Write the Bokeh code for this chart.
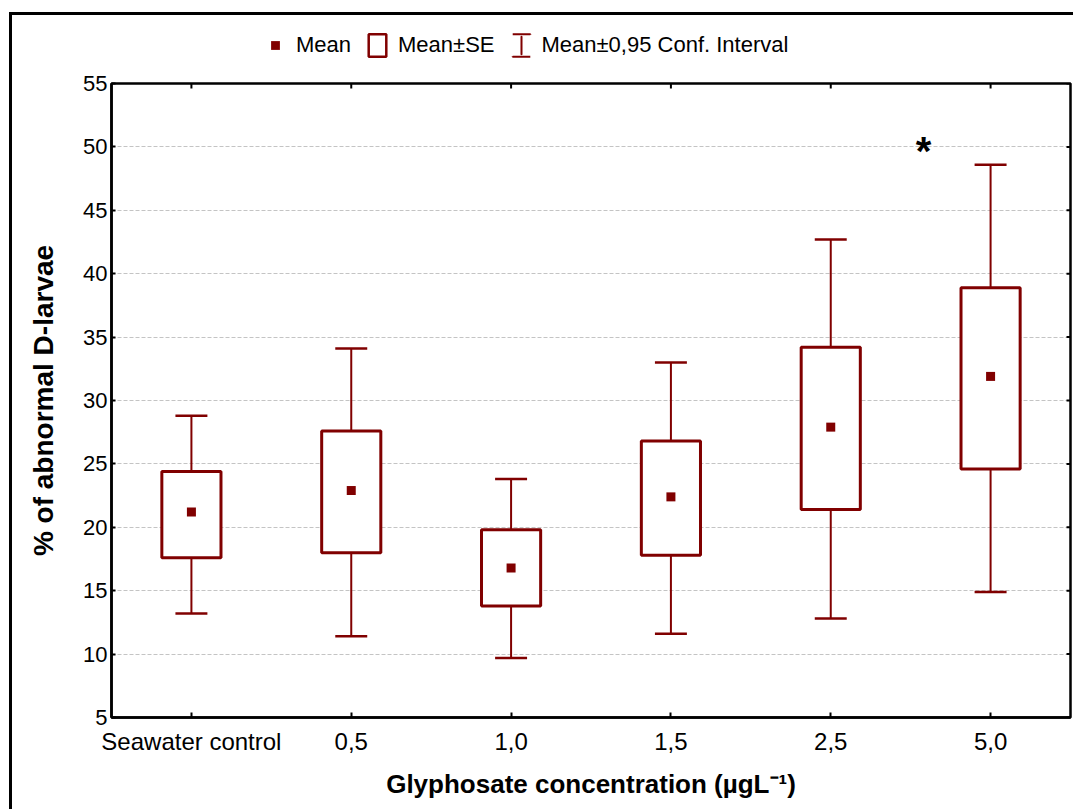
from bokeh.plotting import figure
from bokeh.layouts import column
from bokeh.models import (FactorRange, Range1d, ColumnDataSource, FixedTicker, Legend, LegendItem)
from bokeh.transform import dodge
from bokeh.core.properties import value
from bokeh.embed import file_html
from bokeh.resources import INLINE
import math

# ---- data ----
categories = ["Seawater control", "0,5", "1,0", "1,5", "2,5", "5,0"]
mean = [21.2, 22.9, 16.8, 22.4, 27.9, 31.9]
se_low = [17.6, 18.0, 13.8, 17.8, 21.4, 24.6]
se_high = [24.4, 27.6, 19.8, 26.8, 34.2, 38.9]
ci_low = [13.2, 11.4, 9.7, 11.6, 12.8, 14.9]
ci_high = [28.8, 34.1, 23.8, 33.0, 42.7, 48.6]
y_ticks = [5, 10, 15, 20, 25, 30, 35, 40, 45, 50, 55]
significant = ["5,0"]
sig_marks = ["*"]

MAROON = "#800000"
FONT = "Liberation Sans"

src = ColumnDataSource(dict(cat=categories, mean=mean, se_low=se_low, se_high=se_high,
                            ci_low=ci_low, ci_high=ci_high))
sig_src = ColumnDataSource(dict(cat=significant, mark=sig_marks,
                                y=[ci_high[categories.index(c)] for c in significant]))
right_ticks = ColumnDataSource(dict(cat=[categories[-1]] * len(y_ticks), y=y_ticks))
top_ticks = ColumnDataSource(dict(cat=categories, y=[y_ticks[-1]] * len(categories)))

# ================= main chart =================
p = figure(width=1061, height=749,
           x_range=FactorRange(factors=categories, range_padding=0),
           y_range=Range1d(y_ticks[0], y_ticks[-1]),
           output_backend="svg", toolbar_location=None,
           min_border_left=99, min_border_top=23, min_border_right=3, min_border_bottom=92)
p.background_fill_color = "white"
p.border_fill_color = "white"
p.outline_line_color = "black"
p.outline_line_width = 2.5

# grid
p.xgrid.visible = False
p.ygrid.ticker = FixedTicker(ticks=y_ticks)
p.ygrid.grid_line_color = "#c4c4c4"
p.ygrid.grid_line_dash = "4 2"
p.ygrid.grid_line_width = 1

# left axis
ya = p.left[0]
ya.ticker = FixedTicker(ticks=y_ticks)
ya.axis_line_width = 2.5
ya.major_tick_in = 4
ya.major_tick_out = 0
ya.major_tick_line_width = 2
ya.minor_tick_line_color = None
ya.major_label_standoff = 4
ya.major_label_text_font = FONT
ya.major_label_text_font_size = "22px"
ya.major_label_text_color = "black"
ya.axis_label = "% of abnormal D-larvae"
ya.axis_label_text_font = FONT
ya.axis_label_text_font_style = "bold"
ya.axis_label_text_font_size = "28px"
ya.axis_label_text_color = "black"
ya.axis_label_standoff = 21

# bottom axis
xa = p.below[0]
xa.axis_line_width = 2.5
xa.major_tick_in = 5
xa.major_tick_out = 0
xa.major_tick_line_width = 2
xa.major_label_standoff = 10
xa.major_label_text_font = FONT
xa.major_label_text_font_size = "24px"
xa.major_label_text_color = "black"
xa.axis_label = "Glyphosate concentration (µgL⁻¹)"
xa.axis_label_text_font = FONT
xa.axis_label_text_font_style = "bold"
xa.axis_label_text_font_size = "26px"
xa.axis_label_text_color = "black"
xa.axis_label_standoff = 11

# inward tick marks on the right and top frame edges
p.ray(x=dodge("cat", 0.5, range=p.x_range), y="y", source=right_ticks, length=4,
      length_units="screen", angle=math.pi, line_color="black", line_width=2)
p.ray(x="cat", y="y", source=top_ticks, length=5, length_units="screen",
      angle=-math.pi / 2, line_color="black", line_width=2)

# whisker stems and caps (95% CI)
p.segment(x0="cat", y0="ci_low", x1="cat", y1="ci_high", source=src,
          line_color=MAROON, line_width=2)
for col in ("ci_low", "ci_high"):
    p.segment(x0=dodge("cat", -0.1, range=p.x_range), y0=col,
              x1=dodge("cat", 0.1, range=p.x_range), y1=col, source=src,
              line_color=MAROON, line_width=2.5)

# SE boxes
p.vbar(x="cat", top="se_high", bottom="se_low", width=0.37, source=src,
       fill_color="white", line_color=MAROON, line_width=3)

# means
p.scatter(x="cat", y="mean", source=src, marker="square", size=9,
          fill_color=MAROON, line_color=None)

# significance mark
p.text(x=dodge("cat", -0.42, range=p.x_range), y=dodge("y", 1.1), text="mark", source=sig_src,
       text_font=value(FONT), text_font_style="bold", text_font_size="40px",
       text_align="center", text_baseline="middle", text_color="black")

# ================= legend strip above the chart =================
lf = figure(width=1061, height=45,
            x_range=FactorRange(factors=categories, range_padding=0),
            y_range=Range1d(0, 1),
            x_axis_location=None, y_axis_location=None,
            output_backend="svg", toolbar_location=None, min_border=0)
lf.grid.visible = False
lf.outline_line_color = None
lf.background_fill_color = "white"
lf.border_fill_color = "white"

# legend prototypes (hidden renderers that only provide the legend glyphs)
l_mean = lf.scatter(x="cat", y="mean", source=src, marker="square", size=9,
                    fill_color=MAROON, line_color=None, visible=False)
l_box = lf.vbar(x="cat", top="se_high", bottom="se_low", width=0.37, source=src,
                fill_color="white", line_color=MAROON, line_width=2.5, visible=False)
l_caps = lf.vbar(x="cat", top="ci_high", bottom="ci_low", width=0.2, source=src,
                 fill_color=None, line_color=MAROON, line_width=2, line_dash="18 22",
                 visible=False)
# thin upright ellipse -> drawn as the vertical stem of the legend's I-beam
# (its data values lie far outside this strip's y range, so only the legend shows it)
l_stem = lf.ellipse(x="cat", y="ci_high", width=0.01, height=10,
                    width_units="screen", height_units="screen", source=src,
                    fill_color=None, line_color=MAROON, line_width=2)

legend = Legend(items=[
    LegendItem(label="Mean", renderers=[l_mean]),
    LegendItem(label="Mean±SE", renderers=[l_box]),
    LegendItem(label="Mean±0,95 Conf. Interval", renderers=[l_caps, l_stem]),
], orientation="horizontal", location=(153, 1),
    glyph_width=22, glyph_height=28, label_standoff=10, spacing=15,
    padding=0, margin=0, border_line_color=None, background_fill_alpha=0,
    label_text_font=FONT, label_text_font_size="22px", label_text_color="black")
lf.add_layout(legend)

page = column(lf, p, spacing=0)
page.styles = {"border-left": "3px solid #000", "border-top": "3px solid #000",
               "margin-top": "12px", "margin-left": "9px"}

open("out.html", "w").write(file_html(page, INLINE))
